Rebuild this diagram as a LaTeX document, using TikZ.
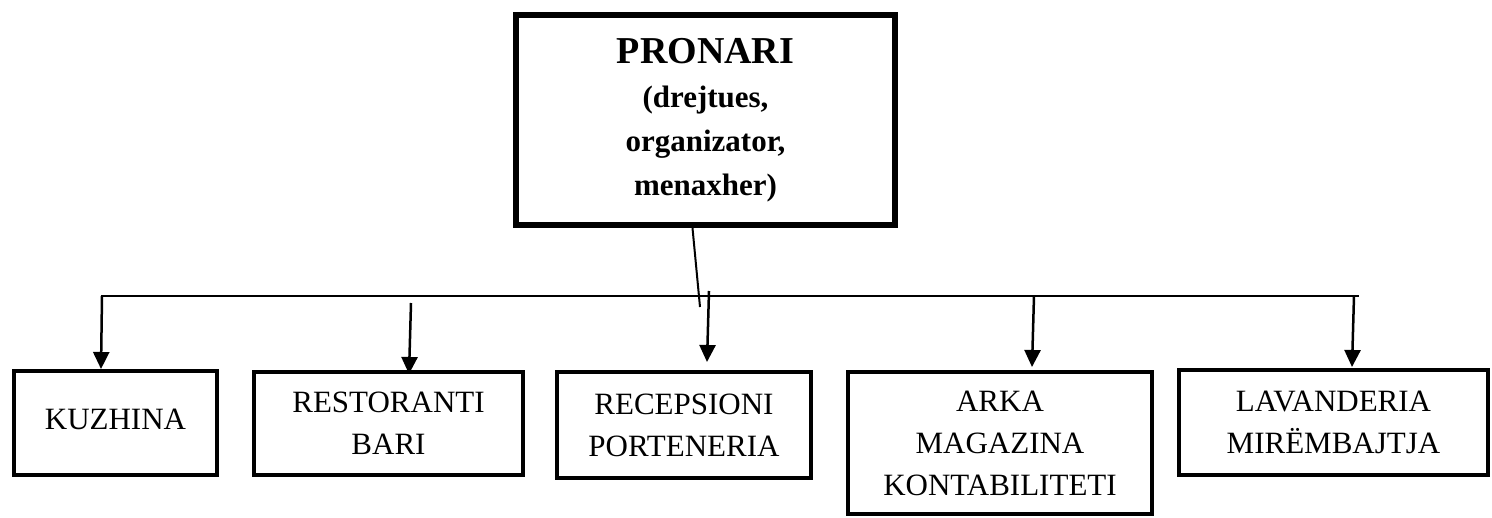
\documentclass[tikz,border=0pt]{standalone}
\usepackage{fontspec}
\setmainfont{Liberation Serif}
\usetikzlibrary{arrows.meta}

\begin{document}
\begin{tikzpicture}[x=1pt,y=-1pt,
  unitbox/.style={draw=black,line width=4pt,rectangle,inner sep=0pt,align=center,
    font=\fontsize{31}{42}\selectfont},
  headbox/.style={draw=black,line width=6pt,rectangle,inner sep=0pt,align=center,
    font=\fontsize{31}{44}\selectfont\bfseries},
  feed/.style={line width=2pt},
  down/.style={line width=2.5pt,-{Triangle[length=17pt,width=16pt]}}]

\useasboundingbox (0,0) rectangle (1492,517);

% owner at the top
\node[headbox,minimum width=379pt,minimum height=210pt] (head) at (705.5,120)
  {{\fontsize{38}{44}\selectfont PRONARI}\\(drejtues,\\organizator,\\menaxher)};

% departments
\node[unitbox,minimum width=203pt,minimum height=104pt,text depth=8pt] (kuz) at (115.5,423) {KUZHINA};
\node[unitbox,minimum width=269pt,minimum height=103pt] (res) at (388.5,423.5) {RESTORANTI\\BARI};
\node[unitbox,minimum width=254pt,minimum height=106pt] (rec) at (684,425) {RECEPSIONI\\PORTENERIA};
\node[unitbox,minimum width=304pt,minimum height=142pt] (ark) at (1000,443) {ARKA\\MAGAZINA\\KONTABILITETI};
\node[unitbox,minimum width=309pt,minimum height=105pt] (lav) at (1333.5,422.5) {LAVANDERIA\\MIRËMBAJTJA};

% distribution bar
\coordinate (barL) at (101,296);
\coordinate (barR) at (1359,296);
\coordinate (stem) at (700,307);
\coordinate (s1) at (102,296);
\coordinate (s2) at (411,303);
\coordinate (s3) at (709,291);
\coordinate (s4) at (1034,296);
\coordinate (s5) at (1354,296);

\draw[feed] ([xshift=-13pt]head.south) -- (stem);
\draw[feed] (barL) -- (barR);

\draw[down] (s1) -- ([xshift=-14.5pt]kuz.north);
\draw[down] (s2) -- ([shift={(20.5,4)}]res.north);
\draw[down] (s3) -- ([shift={(23,-8)}]rec.north);
\draw[down] (s4) -- ([shift={(32,-3)}]ark.north);
\draw[down] (s5) -- ([shift={(18.5,-1)}]lav.north);
\end{tikzpicture}
\end{document}
